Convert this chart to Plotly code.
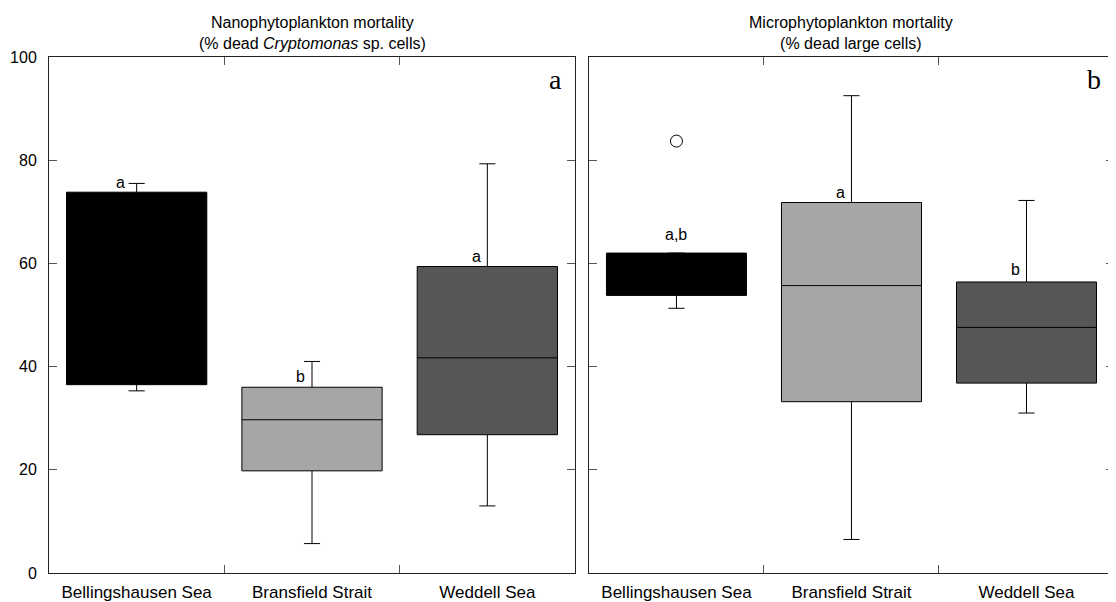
import plotly.graph_objects as go
from plotly.subplots import make_subplots

regions = ["Bellingshausen Sea", "Bransfield Strait", "Weddell Sea"]
colors = ["#000000", "#a6a6a6", "#555658"]

# left panel: nanophytoplankton mortality (% dead Cryptomonas sp. cells)
nano_q1 = [36.5, 19.8, 26.8]
nano_med = [60.0, 29.7, 41.7]
nano_q3 = [73.8, 36.0, 59.4]
nano_lo = [35.3, 5.7, 13.0]
nano_hi = [75.5, 41.0, 79.3]
nano_letters = ["a", "b", "a"]

# right panel: microphytoplankton mortality (% dead large cells)
micro_q1 = [53.8, 33.2, 36.8]
micro_med = [57.0, 55.7, 47.6]
micro_q3 = [62.0, 71.8, 56.4]
micro_lo = [51.3, 6.5, 31.0]
micro_hi = [62.0, 92.5, 72.2]
micro_letters = ["a,b", "a", "b"]
micro_outlier_x = ["Bellingshausen Sea"]
micro_outlier_y = [83.7]

yticks = [0, 20, 40, 60, 80, 100]
font = "Arial, Liberation Sans, sans-serif"

fig = make_subplots(rows=1, cols=2, horizontal_spacing=0.013)

panels = [
    (nano_q1, nano_med, nano_q3, nano_lo, nano_hi, nano_letters),
    (micro_q1, micro_med, micro_q3, micro_lo, micro_hi, micro_letters),
]
# letter offsets (px) relative to box top
letter_shift = [[(-16, -1), (-12, 0), (-11, 0)], [(0, 8), (-11, 0), (-11, 2)]]

for p, (q1, med, q3, lo, hi, letters) in enumerate(panels):
    col = p + 1
    for k, region in enumerate(regions):
        fig.add_trace(go.Box(x=[region], q1=[q1[k]], median=[med[k]], q3=[q3[k]],
                             lowerfence=[lo[k]], upperfence=[hi[k]],
                             fillcolor=colors[k], width=0.8, whiskerwidth=0.115,
                             line=dict(color="black", width=1),
                             boxpoints=False, showlegend=False, hoverinfo="skip"),
                      row=1, col=col)
        dx, dy = letter_shift[p][k]
        fig.add_annotation(x=region, y=q3[k], text=letters[k], showarrow=False,
                           xref="x%d" % col if col > 1 else "x",
                           yref="y%d" % col if col > 1 else "y",
                           yanchor="bottom", xshift=dx, yshift=dy,
                           font=dict(size=16, color="black", family=font))

fig.add_trace(go.Scatter(x=micro_outlier_x, y=micro_outlier_y, mode="markers",
                         marker=dict(symbol="circle-open", size=12, color="black",
                                     line=dict(width=1)),
                         showlegend=False, hoverinfo="skip"), row=1, col=2)

fig.update_xaxes(showline=True, linecolor="#222", linewidth=1, mirror="ticks",
                 ticks="inside", tickson="boundaries", ticklen=8, tickcolor="#555",
                 range=[-0.5, 2.5], showgrid=False, zeroline=False,
                 ticklabelstandoff=4, automargin=False,
                 tickfont=dict(size=17, color="black", family=font))
fig.update_yaxes(showline=True, linecolor="#222", linewidth=1, mirror="ticks",
                 ticks="inside", ticklen=8, tickcolor="#555", range=[0, 100],
                 tickvals=yticks, showgrid=False, zeroline=False,
                 ticklabelstandoff=8, automargin=False,
                 tickfont=dict(size=16, color="black", family=font))
fig.update_yaxes(showticklabels=False, row=1, col=2)

fig.update_xaxes(domain=[0, 0.4939], row=1, col=1)
fig.update_xaxes(domain=[0.507, 1.0], row=1, col=2)

titles = ["Nanophytoplankton mortality<br>(% dead <i>Cryptomonas</i> sp. cells)",
          "Microphytoplankton mortality<br>(% dead large cells)"]
centers = [0.4939 / 2, (0.507 + 1.0) / 2]
for t, c in zip(titles, centers):
    fig.add_annotation(x=c, y=1, xref="paper", yref="paper", text=t, showarrow=False,
                       xanchor="center", yanchor="bottom", yshift=3,
                       font=dict(size=16, color="black", family=font))
for lab, xr in zip(["a", "b"], ["x domain", "x2 domain"]):
    fig.add_annotation(x=0.979, y=0.99, xref=xr, yref="paper", text=lab, showarrow=False,
                       xanchor="right", yanchor="top",
                       font=dict(size=28, color="black", family="Liberation Serif, Times New Roman, serif"))

fig.update_layout(width=1108, height=594, plot_bgcolor="white", paper_bgcolor="white",
                  margin=dict(l=41, r=2, t=49, b=29), boxmode="overlay")

fig.write_html("out.html")
